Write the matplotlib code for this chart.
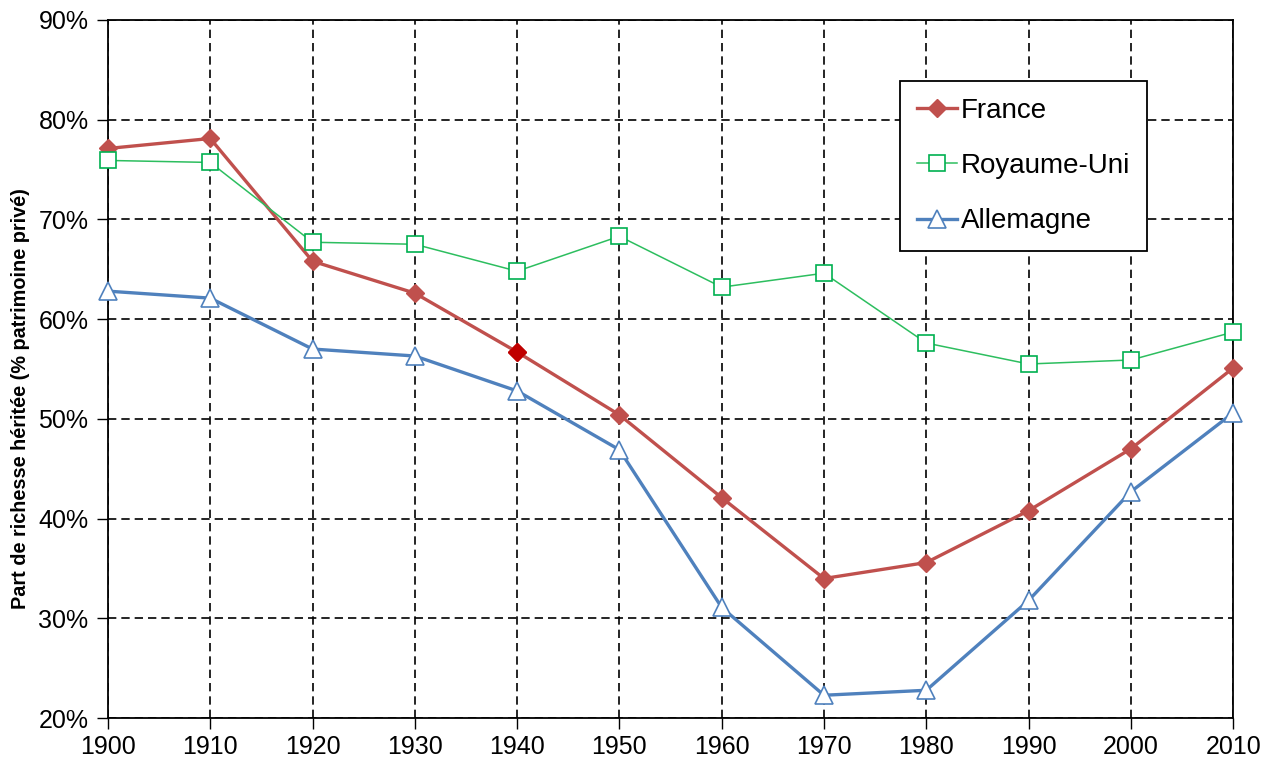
import numpy as np
import matplotlib
matplotlib.use("Agg")
import matplotlib.pyplot as plt
from matplotlib.ticker import FuncFormatter

plt.rcParams["font.family"] = ["Liberation Sans", "DejaVu Sans"]

# Data
years = [1900, 1910, 1920, 1930, 1940, 1950, 1960, 1970, 1980, 1990, 2000, 2010]
france = [77.1, 78.1, 65.8, 62.6, 56.7, 50.4, 42.1, 34.0, 35.6, 40.8, 47.0, 55.1]
royaume_uni = [75.9, 75.7, 67.7, 67.5, 64.8, 68.3, 63.2, 64.6, 57.6, 55.5, 55.9, 58.7]
allemagne = [62.8, 62.1, 57.0, 56.3, 52.8, 46.9, 31.1, 22.3, 22.8, 31.8, 42.7, 50.6]
highlight = 4  # France 1940 point drawn in a darker red

fig = plt.figure(figsize=(12.7, 7.6), dpi=100)
ax = fig.add_axes([0.085, 0.055, 0.886, 0.919])

ax.plot(years, france, color="#C0504D", lw=2.4, marker="D", ms=9,
        mfc="#C0504D", mec="#C0504D", label="France", zorder=3,
        clip_on=False)
ax.plot(years[highlight], france[highlight], ls="none", marker="D", ms=9,
        mfc="#C00000", mec="#C00000", zorder=4)
ax.plot(years, royaume_uni, color="#2DBE5F", lw=1.1, marker="s", ms=12,
        mfc="white", mec="#00B050", mew=1.2, label="Royaume-Uni", zorder=3,
        clip_on=False)
ax.plot(years, allemagne, color="#4F81BD", lw=2.4, marker="^", ms=13,
        mfc="white", mec="#4F81BD", mew=1.2, label="Allemagne", zorder=3,
        clip_on=False)

ax.set_xlim(1900, 2010)
ax.set_ylim(20, 90)
ax.set_xticks(years)
ax.set_yticks(np.arange(20, 91, 10))
ax.yaxis.set_major_formatter(FuncFormatter(lambda v, p: "{0:.0f}%".format(v)))
ax.tick_params(direction="out", length=8, width=1, labelsize=18, pad=4)
ax.tick_params(axis="y", pad=6)

ax.grid(True, color="black", ls=(0, (5, 3)), lw=1.2)
ax.set_axisbelow(True)
for s in ax.spines.values():
    s.set_linewidth(1.3)

ax.set_ylabel("Part de richesse héritée (% patrimoine privé)",
              fontsize=14.3, fontweight="bold")
ax.yaxis.set_label_coords(-0.069, 0.458)

leg = ax.legend(loc="upper right", bbox_to_anchor=(0.9235, 0.912),
                fontsize=20, frameon=True, fancybox=False, framealpha=1,
                edgecolor="black", borderpad=0.6, labelspacing=1.05,
                handlelength=1.45, handletextpad=0.15, borderaxespad=0)
leg.get_frame().set_linewidth(1.3)

fig.savefig("out.png", dpi=100)
